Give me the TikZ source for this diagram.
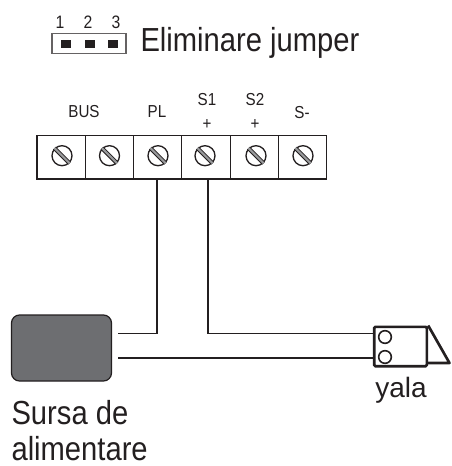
\documentclass[tikz,border=0pt]{standalone}
\usepackage{fontspec}
\setmainfont{Liberation Sans}
\newfontfamily\narrowfont[FakeStretch=0.875]{Liberation Sans}
\usetikzlibrary{positioning}
\definecolor{ink}{HTML}{231F20}
\definecolor{boxgray}{HTML}{6D6E71}
\begin{document}
\begin{tikzpicture}[x=0.75pt, y=-0.75pt, thick, text=ink,
    cell/.style = {draw=ink, line width=0.9pt, outer sep=0pt, minimum width=36.2pt, minimum height=32.6pt, inner sep=0pt},
    screw/.style = {circle, draw=ink, line width=1pt, minimum size=15pt, inner sep=0pt},
    wire/.style = {draw=ink, line width=0.9pt},
    big/.style = {font=\narrowfont\fontsize{25}{28}\selectfont, inner sep=0pt},
    small/.style = {font=\narrowfont\fontsize{13}{15}\selectfont, inner sep=0pt},
    pin/.style = {fill=ink, minimum width=7pt, minimum height=6pt, inner sep=0pt},
    nr/.style = {font=\narrowfont\fontsize{13.5}{15}\selectfont, inner sep=0pt},
    hole/.style = {circle, draw=ink, line width=1.2pt, minimum size=9.5pt, inner sep=0pt}]
    \useasboundingbox (0,0) rectangle (451,466);

    % jumper
    \node[draw=ink!70, line width=0.8pt, minimum width=55.5pt, minimum height=14.5pt, inner sep=0pt] (jumper) at (89,43.5) {};
    \node[pin] (p1) at (66,44) {};
    \node[pin] (p2) at (90,44) {};
    \node[pin] (p3) at (113,44) {};
    \node[nr] (n1) at (60,22) {1};
    \node[nr] (n2) at (88,22) {2};
    \node[nr] (n3) at (116,22) {3};
    \node[big, anchor=base west] (elim) at (140,52) {Eliminare jumper};

    % terminal block
    \node[cell] (c1) at (61.2,157.3) {};
    \foreach \i/\j in {2/1,3/2,4/3,5/4,6/5}
        \node[cell, right=0pt of c\j] (c\i) {};
    \foreach \i/\x in {1/62,2/109.5,3/158,4/205,5/256,6/303} {
        \node[screw] (s\i) at (\x,155.7) {};
        \draw[ink, line width=3pt] (s\i.135) -- (s\i.-45);
        \draw[boxgray!70, line width=1.6pt] (s\i.135) -- (s\i.-45);
    }
    \node[small] (bus) at (84,112) {BUS};
    \node[small] (pl) at (157,112) {PL};
    \node[small] (s1) at (207,100) {S1};
    \node[small] (s2) at (255,100) {S2};
    \node[small] (sm) at (302,113) {S-};
    \node[small] (plus1) at (207,125) {+};
    \node[small] (plus2) at (255,125) {+};

    % source
    \node[draw=ink, line width=0.9pt, fill=boxgray, rounded corners=6pt, minimum width=75pt, minimum height=49.5pt, inner sep=0pt] (source) at (61.5,348) {};
    \node[big, anchor=base west] (sursa) at (11,424) {Sursa de};
    \node[big, anchor=base west] (alim) at (11,460) {alimentare};

    % yala
    \node[draw=ink, line width=2pt, rounded corners=1pt, minimum width=39.5pt, minimum height=29.5pt, inner sep=0pt] (yala) at (400.5,346.5) {};
    \node[hole] (o1) at (385,337) {};
    \node[hole] (o2) at (385,357) {};
    \coordinate (tip) at (449.5,363);
    \draw[ink, line width=2pt, line join=round] (yala.north east) -- (tip) -- (yala.east |- tip);
    \node[font=\fontsize{21}{24}\selectfont, inner sep=0pt, anchor=base] (yalatxt) at (401,397) {yala};

    % wires
    \coordinate (t1) at (118,333.5);
    \coordinate (t2) at (118,358);
    \coordinate (e1) at (yala.west |- t1);
    \coordinate (e2) at (yala.west |- t2);
    \coordinate (w3) at (157,179);
    \coordinate (w4) at (208,179);
    \draw[wire] (w3) |- (t1);
    \draw[wire] (w4) |- (e1);
    \draw[wire] (t2) -- (e2);
\end{tikzpicture}
\end{document}
